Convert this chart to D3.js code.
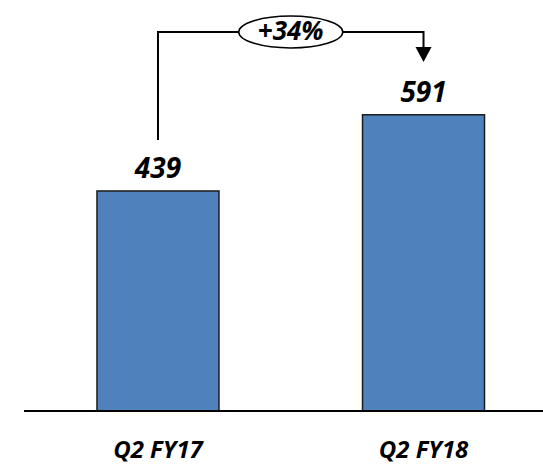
<!DOCTYPE html>
<html>
<head>
<meta charset="utf-8">
<script src="https://cdn.jsdelivr.net/npm/d3@7"></script>
<style>
  body { margin: 0; background: #fff; }
  text { font-family: "Open Sans", "Noto Sans", sans-serif; font-weight: bold; font-style: italic; fill: #000; }
</style>
</head>
<body>
<div id="chart"></div>
<script>
var categories = ["Q2 FY17", "Q2 FY18"];
var values = [439, 591];
var growthLabel = "+34%";

var width = 543, height = 465;
var baseY = 411;

var svg = d3.select("#chart").append("svg")
  .attr("width", width)
  .attr("height", height);

var x = d3.scaleBand()
  .domain(categories)
  .range([30.6, 550.9])
  .paddingInner(0.5405)
  .paddingOuter(0.25);

var y = d3.scaleLinear()
  .domain([0, 820])
  .range([baseY, 0]);

// bars
svg.selectAll(".bar").data(values).enter().append("rect")
  .attr("class", "bar")
  .attr("x", function(d, i) { return x(categories[i]); })
  .attr("y", function(d) { return y(d); })
  .attr("width", x.bandwidth())
  .attr("height", function(d) { return baseY - y(d); })
  .attr("fill", "#4f81bd")
  .attr("stroke", "#1c1c1c")
  .attr("stroke-width", 1.5);

// baseline
svg.append("line")
  .attr("x1", 24).attr("x2", width)
  .attr("y1", baseY).attr("y2", baseY)
  .attr("stroke", "#000")
  .attr("stroke-width", 2);

// value labels
svg.selectAll(".val").data(values).enter().append("text")
  .attr("class", "val")
  .attr("x", function(d, i) { return x(categories[i]) + x.bandwidth() / 2; })
  .attr("y", function(d) { return y(d) - 13; })
  .attr("text-anchor", "middle")
  .style("font-size", "28px")
  .text(function(d) { return d; });

// category labels
svg.selectAll(".cat").data(categories).enter().append("text")
  .attr("class", "cat")
  .attr("x", function(d) { return x(d) + x.bandwidth() / 2; })
  .attr("y", 458)
  .attr("text-anchor", "middle")
  .style("font-size", "24px")
  .text(function(d) { return d; });

// growth bracket
var cx1 = x(categories[0]) + x.bandwidth() / 2;
var cx2 = x(categories[1]) + x.bandwidth() / 2;
var topY = 32;

svg.append("path")
  .attr("d", "M" + cx1 + "," + (y(values[0]) - 51) + "V" + topY + "H" + cx2 + "V" + 48)
  .attr("fill", "none")
  .attr("stroke", "#000")
  .attr("stroke-width", 2);

svg.append("path")
  .attr("d", "M" + (cx2 - 8) + ",47L" + (cx2 + 8) + ",47L" + cx2 + ",62Z")
  .attr("fill", "#000");

var midX = (cx1 + cx2) / 2;
svg.append("ellipse")
  .attr("cx", midX).attr("cy", topY)
  .attr("rx", 52).attr("ry", 16)
  .attr("fill", "#fff")
  .attr("stroke", "#000")
  .attr("stroke-width", 1.5);

svg.append("text")
  .attr("x", midX).attr("y", topY + 8)
  .attr("text-anchor", "middle")
  .style("font-size", "26px")
  .text(growthLabel);
</script>
</body>
</html>
